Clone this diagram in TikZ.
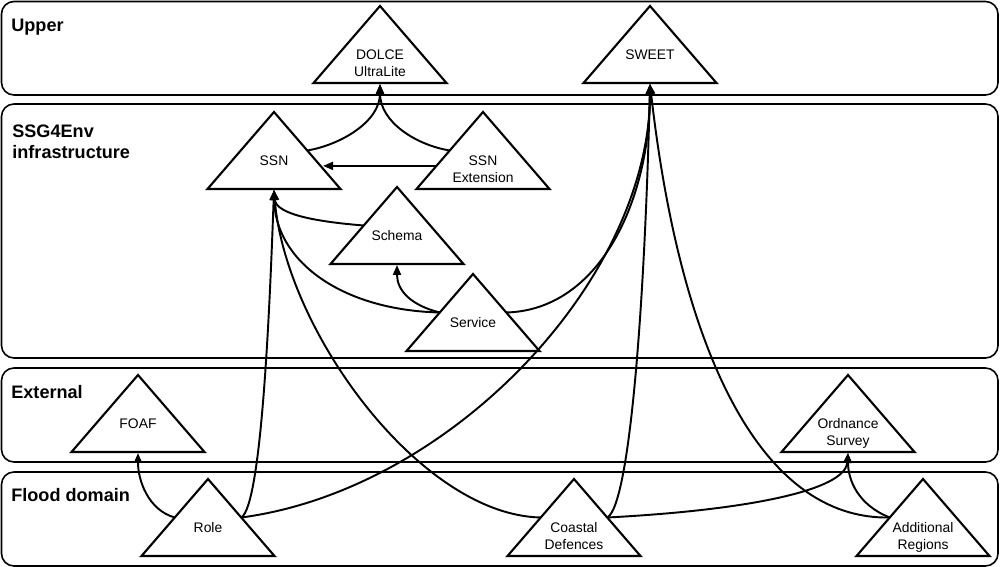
\documentclass[tikz,border=0pt]{standalone}
\usepackage{fontspec}
\setmainfont{Liberation Sans}
\usetikzlibrary{arrows.meta,calc}
\tikzset{
 band/.style={draw, line width=0.9pt, rounded corners=0.25cm},
 bandlabel/.style={anchor=north west, inner sep=0pt, font=\fontsize{10.3}{11.4}\selectfont\bfseries, align=left},
 triline/.style={draw, line width=1.2pt, line join=miter},
 trilabel/.style={anchor=north, inner sep=0pt, font=\fontsize{7.9}{9.7}\selectfont, align=center},
 conn/.style={line width=1.1pt, -{Triangle[length=0.2cm,width=0.16cm]}},
}
\newcommand\ontri[4]{%
 \coordinate (#1-a) at (#2,#3);
 \coordinate (#1-t) at (#2,#3+78);
 \coordinate (#1-l) at (#2-66.5,#3+77);
 \coordinate (#1-r) at (#2+66.5,#3+77);
 \coordinate (#1-lm) at (#2-33.25,#3+38.5);
 \coordinate (#1-rm) at (#2+33.25,#3+38.5);
 \draw[triline] (#1-a) -- (#1-r) -- (#1-l) -- cycle;
 \node[trilabel] (#1) at (#2,#3+43) {#4};
}
\begin{document}
\begin{tikzpicture}[x=0.02cm,y=-0.02cm]
\useasboundingbox (0,0) rectangle (1000,567);
% bands
\draw[band] (1.5,1.5) rectangle (998,95);
\draw[band] (1.5,104) rectangle (998,358);
\draw[band] (1.5,368) rectangle (998,462);
\draw[band] (1.5,472) rectangle (998,566);
\node[bandlabel] (lupper) at (11,19) {Upper};
\node[bandlabel] (lssg) at (12,125) {SSG4Env\\infrastructure};
\node[bandlabel] (lext) at (11,385) {External};
\node[bandlabel] (lflood) at (11,488) {Flood domain};
% triangles
\ontri{dolce}{380}{6}{DOLCE\\UltraLite}
\ontri{sweet}{650}{6}{SWEET}
\ontri{ssn}{274}{112}{SSN}
\ontri{ssnx}{483}{112}{SSN\\Extension}
\ontri{schema}{397}{187}{Schema}
\ontri{service}{473}{274}{Service}
\ontri{foaf}{138}{375}{FOAF}
\ontri{os}{848}{375}{Ordnance\\Survey}
\ontri{role}{208}{479}{Role}
\ontri{coastal}{574}{479}{Coastal\\Defences}
\ontri{ar}{923}{479}{Additional\\Regions}
% connectors
\draw[conn] (ssn-rm) .. controls (340,145) and (380,122) .. (dolce-t);
\draw[conn] (ssnx-lm) .. controls (416,145) and (380,122) .. (dolce-t);
\draw[conn, shorten >=0.05cm] ($(ssnx-a)!0.7!(ssnx-l)$) -- ($(ssn-a)!0.7!(ssn-r)$);
\draw[conn] (schema-lm) .. controls (320,222) and (276,215) .. (ssn-t);
\draw[conn] (service-lm) .. controls (340,310) and (275,260) .. (ssn-t);
\draw[conn] (service-lm) .. controls (410,305) and (397,290) .. (schema-t);
\draw[conn] (service-rm) .. controls (600,310) and (650,200) .. (sweet-t);
\draw[conn] (role-lm) .. controls (148,510) and (138,480) .. (foaf-t);
\draw[conn] (role-rm) .. controls (262,505) and (270,300) .. (ssn-t);
\draw[conn] (role-rm) .. controls (450,490) and (650,280) .. (sweet-t);
\draw[conn] (coastal-lm) .. controls (420,515) and (285,330) .. (ssn-t);
\draw[conn] (coastal-rm) .. controls (630,505) and (645,300) .. (sweet-t);
\draw[conn] (coastal-rm) .. controls (750,510) and (845,490) .. (os-t);
\draw[conn] (ar-lm) .. controls (760,520) and (680,350) .. (sweet-t);
\draw[conn] (ar-lm) .. controls (858,505) and (848,480) .. (os-t);
\end{tikzpicture}
\end{document}
